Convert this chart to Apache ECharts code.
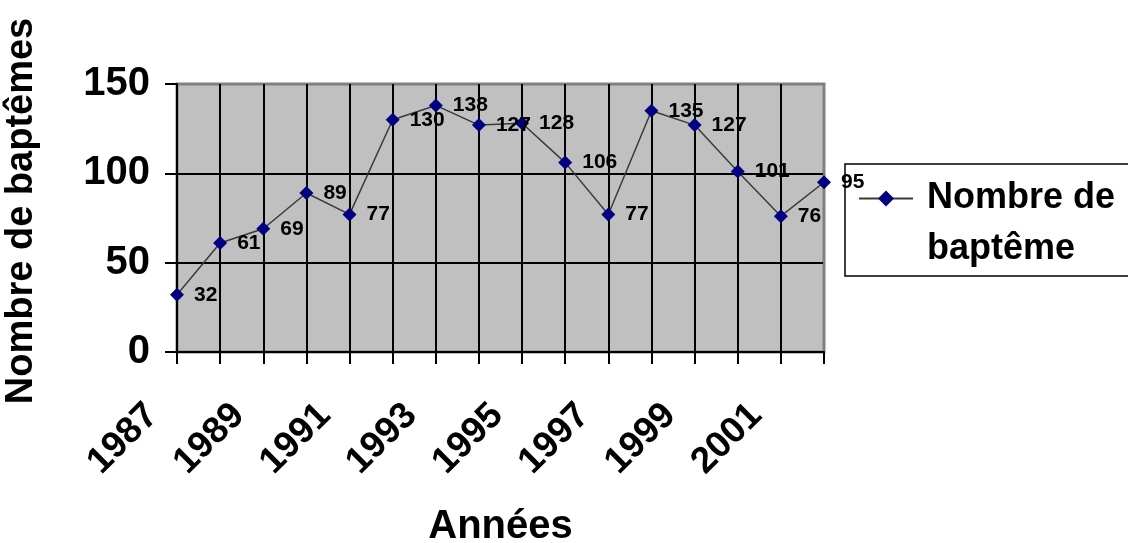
<!DOCTYPE html>
<html>
<head>
<meta charset="utf-8">
<script src="https://cdn.jsdelivr.net/npm/echarts@6/dist/echarts.min.js"></script>
<style>
html,body{margin:0;padding:0;background:#fff;}
#c{width:1128px;height:543px;}
</style>
</head>
<body>
<div id="c"></div>
<script>
const years = ['1987','1988','1989','1990','1991','1992','1993','1994','1995','1996','1997','1998','1999','2000','2001','2002'];
const baptemes = [32, 61, 69, 89, 77, 130, 138, 127, 128, 106, 77, 135, 127, 101, 76, 95];
const yTicks = [0, 50, 100, 150];
const seriesName = 'Nombre de baptême';

const FONT = '"Liberation Sans", Arial, sans-serif';
const xSplitColors = years.map((y, i) => i === years.length - 1 ? '#808080' : '#000000');
const ySplitColors = yTicks.map((v, i) => i === yTicks.length - 1 ? '#808080' : '#000000');

const chart = echarts.init(document.getElementById('c'), null, {renderer: 'canvas'});
chart.setOption({
  animation: false,
  backgroundColor: '#ffffff',
  grid: {
    left: 177, right: 304, top: 84, bottom: 191,
    containLabel: false, outerBoundsMode: 'none',
    show: true, backgroundColor: '#C0C0C0', borderColor: '#808080', borderWidth: 3
  },
  legend: {
    left: 845, top: 164, z: 1,
    orient: 'vertical',
    padding: [-42, 40, 1, 13],
    borderColor: '#000', borderWidth: 1.5, backgroundColor: '#fff',
    itemWidth: 54, itemHeight: 20,
    formatter: () => '\nNombre de\nbaptême',
    textStyle: {
      fontFamily: FONT, fontWeight: 'bold', fontSize: 36, color: '#000',
      lineHeight: 51, padding: [0, 0, 0, 9]
    },
    data: [seriesName]
  },
  xAxis: {
    type: 'category',
    data: years,
    boundaryGap: false,
    name: 'Années',
    nameLocation: 'middle',
    nameGap: 155,
    nameTextStyle: {fontFamily: FONT, fontWeight: 'bold', fontSize: 40, color: '#000'},
    axisLine: {show: true, lineStyle: {color: '#000', width: 2}},
    axisTick: {show: true, interval: 0, length: 12, lineStyle: {color: '#000', width: 2}},
    splitLine: {show: true, interval: 0, lineStyle: {color: xSplitColors, width: 2}},
    axisLabel: {
      interval: 1, rotate: 45, margin: 33, padding: [0, 35, 0, 0],
      fontFamily: FONT, fontWeight: 'bold', fontSize: 37, color: '#000'
    }
  },
  yAxis: {
    type: 'value',
    min: 0, max: 150, interval: 50,
    name: 'Nombre de baptêmes',
    nameLocation: 'middle',
    nameRotate: 90,
    nameGap: 136,
    nameTextStyle: {fontFamily: FONT, fontWeight: 'bold', fontSize: 38, color: '#000', padding: [0, 0, 0, 14]},
    axisLine: {show: true, lineStyle: {color: '#000', width: 2}},
    axisTick: {show: true, length: 12, lineStyle: {color: '#000', width: 2}},
    splitLine: {show: true, lineStyle: {color: ySplitColors, width: 2}},
    axisLabel: {
      margin: 27,
      fontFamily: FONT, fontWeight: 'bold', fontSize: 40, color: '#000'
    }
  },
  series: [{
    name: seriesName,
    type: 'line',
    z: 10,
    data: baptemes,
    symbol: 'diamond',
    symbolSize: 14,
    showAllSymbol: true,
    itemStyle: {color: '#000080'},
    lineStyle: {color: '#3a3a3a', width: 1.5},
    label: {
      show: true, position: 'right', distance: 10,
      fontFamily: FONT, fontWeight: 'bold', fontSize: 21, color: '#000'
    },
    emphasis: {disabled: true}
  }]
});
</script>
</body>
</html>
